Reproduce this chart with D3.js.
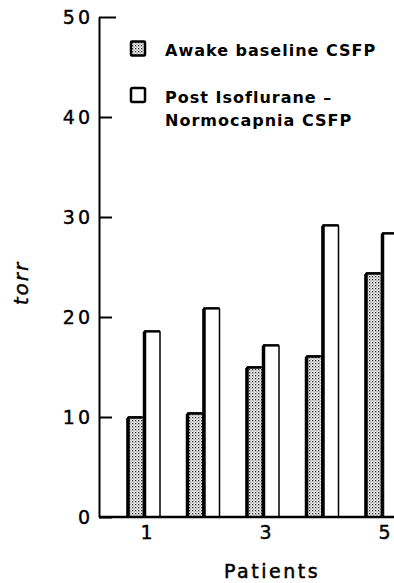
<!DOCTYPE html>
<html><head><meta charset="utf-8">
<script src="https://cdn.jsdelivr.net/npm/d3@7"></script>
<style>
html,body{margin:0;padding:0;background:#fff;}
svg{display:block;}
text{font-family:"DejaVu Sans",sans-serif;fill:#000;}
</style></head>
<body><svg id="c" width="394" height="583"></svg>
<script>
const patients = [1, 2, 3, 4, 5];
const awakeBaseline = [10.0, 10.4, 15.0, 16.1, 24.4];
const postIsoflurane = [18.6, 20.9, 17.2, 29.2, 28.4];
const yTicks = [0, 10, 20, 30, 40, 50];
const xTicks = [1, 3, 5];
const legendLabels = ["Awake baseline CSFP", ["Post Isoflurane \u2013", "Normocapnia CSFP"]];

const svg = d3.select("#c");
const defs = svg.append("defs");
const pat = defs.append("pattern").attr("id","stip").attr("patternUnits","userSpaceOnUse")
  .attr("width",3).attr("height",3);
pat.append("rect").attr("width",3).attr("height",3).attr("fill","#fff");
pat.append("rect").attr("x",0).attr("y",0).attr("width",1.3).attr("height",1.3).attr("fill","#222");
pat.append("rect").attr("x",1.5).attr("y",1.5).attr("width",1.1).attr("height",1.1).attr("fill","#555");

const y = d3.scaleLinear().domain([0,50]).range([517,17]);
const x = d3.scaleLinear().domain([1,5]).range([144,382]);
const axisX0 = 99;

// y axis
const ya = svg.append("g").attr("transform",`translate(${axisX0},0)`)
  .call(d3.axisLeft(y).tickValues(yTicks).tickSizeInner(-13).tickSizeOuter(0).tickPadding(9).tickFormat(d3.format("d")));
ya.select(".domain").attr("stroke","#000").attr("stroke-width",2);
ya.selectAll(".tick line").attr("stroke","#000").attr("stroke-width",2);
ya.selectAll(".tick").filter(d=>d===50).select("line").attr("x2",17);
ya.selectAll(".tick text").attr("font-size",19).attr("letter-spacing",3).attr("dx",3)
  .attr("stroke","#000").attr("stroke-width",0.4)
  .style("font-family","'DejaVu Sans',sans-serif");

// bars
const bw = 16;
const g = svg.append("g");
patients.forEach((p,i)=>{
  const cx = x(p);
  const a = awakeBaseline[i];
  g.append("rect").attr("x",cx-bw-0.5).attr("y",y(a)).attr("width",bw).attr("height",y(0)-y(a))
    .attr("fill","url(#stip)").attr("stroke","#000").attr("stroke-width",1.5).attr("rx",1.5);
  g.append("line").attr("x1",cx-bw).attr("x2",cx-bw).attr("y1",y(a)+1).attr("y2",y(0))
    .attr("stroke","#000").attr("stroke-width",3.5);
  g.append("line").attr("x1",cx-bw).attr("x2",cx-2).attr("y1",y(a)+0.5).attr("y2",y(a)+0.5)
    .attr("stroke","#000").attr("stroke-width",2.5);
  const b = postIsoflurane[i];
  g.append("rect").attr("x",cx).attr("y",y(b)).attr("width",bw).attr("height",y(0)-y(b))
    .attr("fill","#fff").attr("stroke","#000").attr("stroke-width",1.5).attr("rx",1);
  g.append("line").attr("x1",cx+0.5).attr("x2",cx+0.5).attr("y1",y(b)+1).attr("y2",y(0))
    .attr("stroke","#000").attr("stroke-width",3.5);
  g.append("line").attr("x1",cx).attr("x2",cx+bw).attr("y1",y(b)+0.5).attr("y2",y(b)+0.5)
    .attr("stroke","#000").attr("stroke-width",2.2);
});

// x baseline
svg.append("line").attr("x1",axisX0).attr("x2",394).attr("y1",y(0)).attr("y2",y(0))
  .attr("stroke","#000").attr("stroke-width",2.5);

// x axis labels
const xa = svg.append("g").attr("transform",`translate(0,${y(0)})`)
  .call(d3.axisBottom(x).tickValues(xTicks).tickSize(0).tickPadding(9).tickFormat(d3.format("d")));
xa.select(".domain").remove();
xa.selectAll(".tick text").attr("font-size",19).attr("dx",2)
  .attr("stroke","#000").attr("stroke-width",0.4)
  .style("font-family","'DejaVu Sans',sans-serif");

// axis titles
svg.append("text").attr("transform","translate(28,283) rotate(-90)").attr("text-anchor","middle")
  .attr("font-size",20).attr("font-style","italic").attr("letter-spacing",2)
  .attr("stroke","#000").attr("stroke-width",0.4).text("torr");
svg.append("text").attr("x",272).attr("y",578).attr("text-anchor","middle")
  .attr("font-size",19).attr("letter-spacing",2.5)
  .attr("stroke","#000").attr("stroke-width",0.5).text("Patients");

// legend
const lg = svg.append("g");
lg.append("rect").attr("x",131).attr("y",41.5).attr("width",14).attr("height",14)
  .attr("fill","url(#stip)").attr("stroke","#000").attr("stroke-width",2.5).attr("rx",1);
lg.append("text").attr("x",165).attr("y",56).attr("font-size",16).attr("font-weight","bold")
  .attr("letter-spacing",1).text(legendLabels[0]);
lg.append("rect").attr("x",131).attr("y",88).attr("width",14).attr("height",14)
  .attr("fill","#fff").attr("stroke","#000").attr("stroke-width",2.5).attr("rx",1.5);
lg.append("text").attr("x",165).attr("y",103).attr("font-size",16).attr("font-weight","bold")
  .attr("letter-spacing",1).text(legendLabels[1][0]);
lg.append("text").attr("x",165).attr("y",126).attr("font-size",16).attr("font-weight","bold")
  .attr("letter-spacing",1).text(legendLabels[1][1]);
</script></body></html>
